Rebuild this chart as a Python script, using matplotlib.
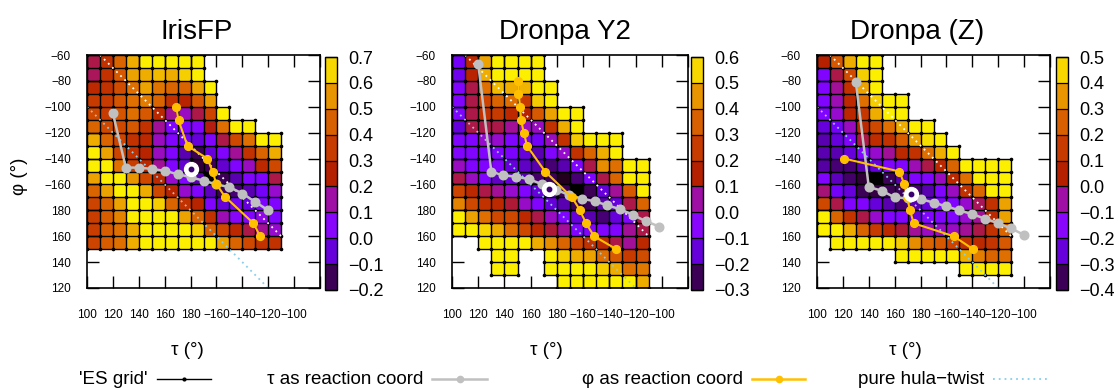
import numpy as np
import matplotlib
matplotlib.use('Agg')
import matplotlib.pyplot as plt
from matplotlib.colors import ListedColormap, BoundaryNorm, Normalize
from matplotlib.collections import LineCollection
from matplotlib.lines import Line2D
import matplotlib.cm as cm

plt.rcParams['font.family'] = ['Liberation Sans', 'DejaVu Sans']
nan = np.nan

# ---------------- data ----------------
titles = ['IrisFP', 'Dronpa Y2', 'Dronpa (Z)']
cb_ranges = [(-0.2, 0.7), (-0.3, 0.6), (-0.4, 0.5)]

# tau cell left edges (deg, 180 unwrapped) and phi top row edge
tau_start = 100
phi_top = 300
cell = 10

# energies, rows from phi = 300 (top) downward, columns from tau = 100
irisfp = [
    [0.21, 0.32, 0.46, 0.59, 0.68, 0.68, 0.68, 0.68, 0.68, nan, nan, nan, nan, nan, nan],
    [0.20, 0.32, 0.43, 0.57, 0.59, 0.61, 0.59, 0.64, 0.68, nan, nan, nan, nan, nan, nan],
    [0.29, 0.32, 0.40, 0.48, 0.57, 0.49, 0.46, 0.46, 0.57, 0.68, nan, nan, nan, nan, nan],
    [0.35, 0.35, 0.42, 0.48, 0.51, 0.46, 0.32, 0.27, 0.43, 0.56, nan, nan, nan, nan, nan],
    [0.39, 0.35, 0.42, 0.48, 0.43, 0.29, 0.16, 0.13, 0.21, 0.38, 0.68, nan, nan, nan, nan],
    [0.46, 0.39, 0.39, 0.43, 0.32, 0.16, 0.03, 0.03, 0.04, 0.24, 0.48, 0.68, 0.68, nan, nan],
    [0.59, 0.46, 0.38, 0.32, 0.29, 0.13, 0.03, -0.01, -0.05, 0.03, 0.21, 0.39, 0.48, 0.68, 0.68],
    [0.68, 0.57, 0.38, 0.32, 0.27, 0.13, 0.03, -0.09, -0.15, -0.05, 0.03, 0.16, 0.32, 0.46, 0.59],
    [0.68, 0.68, 0.48, 0.36, 0.29, 0.16, 0.03, -0.06, -0.165, -0.15, -0.06, 0.03, 0.13, 0.29, 0.39],
    [0.57, 0.68, 0.68, 0.55, 0.39, 0.29, 0.115, 0.03, -0.09, -0.25, -0.15, -0.09, 0.03, 0.03, 0.21],
    [0.46, 0.57, 0.68, 0.68, 0.59, 0.39, 0.27, 0.115, 0.03, -0.08, -0.15, -0.13, -0.09, -0.01, 0.115],
    [0.38, 0.46, 0.57, 0.68, 0.68, 0.64, 0.46, 0.32, 0.27, 0.03, -0.05, -0.01, -0.05, 0.02, 0.03],
    [0.36, 0.44, 0.52, 0.68, 0.68, 0.68, 0.68, 0.57, 0.46, 0.32, 0.14, 0.06, 0.03, 0.09, 0.03],
    [0.36, 0.44, 0.48, 0.59, 0.68, 0.68, 0.68, 0.68, 0.64, 0.46, 0.39, 0.29, 0.21, 0.16, 0.115],
    [0.38, 0.44, 0.48, 0.59, 0.68, 0.68, 0.68, 0.68, 0.68, 0.68, 0.57, 0.46, 0.39, 0.32, 0.32],
]

dronpa_y2 = [
    [-0.11, 0.19, 0.47, 0.58, 0.58, 0.58, 0.58, nan, nan, nan, nan, nan, nan, nan, nan],
    [-0.13, 0.17, 0.49, 0.58, 0.58, 0.58, 0.58, nan, nan, nan, nan, nan, nan, nan, nan],
    [-0.07, 0.11, 0.38, 0.51, 0.49, 0.50, 0.58, 0.58, nan, nan, nan, nan, nan, nan, nan],
    [-0.07, 0.11, 0.28, 0.36, 0.38, 0.25, 0.53, 0.58, nan, nan, nan, nan, nan, nan, nan],
    [-0.07, 0.11, 0.22, 0.25, 0.19, 0.17, 0.33, 0.47, 0.58, 0.58, nan, nan, nan, nan, nan],
    [-0.15, 0.11, 0.11, 0.11, 0.06, 0.03, 0.03, 0.22, 0.49, 0.58, nan, nan, nan, nan, nan],
    [-0.07, -0.07, 0.015, 0.015, -0.07, -0.07, -0.11, 0.03, 0.22, 0.53, 0.58, 0.58, 0.58, nan, nan],
    [-0.07, -0.07, -0.07, -0.07, -0.09, -0.15, -0.19, -0.07, 0.015, 0.22, 0.36, 0.49, 0.58, nan, nan],
    [0.03, -0.07, -0.07, -0.07, -0.15, -0.17, -0.19, -0.23, -0.19, -0.07, 0.11, 0.44, 0.38, 0.58, 0.58],
    [0.11, 0.03, -0.07, -0.17, -0.15, -0.19, -0.24, -0.25, -0.28, -0.23, -0.07, 0.11, 0.36, 0.58, 0.58],
    [0.28, 0.19, 0.11, 0.06, 0.015, -0.07, -0.15, -0.19, -0.25, -0.35, -0.25, -0.15, 0.06, 0.33, 0.58],
    [0.42, 0.29, 0.22, 0.19, 0.12, 0.02, -0.07, -0.15, -0.19, -0.25, -0.25, -0.19, -0.15, 0.11, 0.36],
    [0.58, 0.47, 0.38, 0.29, 0.29, 0.19, 0.11, 0.03, -0.07, -0.15, -0.19, -0.23, -0.15, -0.07, 0.11],
    [0.58, 0.58, 0.55, 0.49, 0.38, 0.29, 0.19, 0.12, 0.06, -0.07, -0.07, -0.07, -0.07, 0.06, 0.11],
    [nan, nan, 0.58, 0.58, 0.58, 0.58, 0.49, 0.44, 0.36, 0.29, 0.22, 0.19, 0.11, 0.06, 0.19],
    [nan, nan, nan, 0.58, 0.58, nan, nan, 0.58, 0.54, 0.49, 0.47, 0.38, 0.33, 0.25, 0.30],
    [nan, nan, nan, 0.58, 0.58, nan, nan, 0.58, 0.58, 0.58, 0.58, 0.54, 0.49, 0.38, 0.40],
    [nan, nan, nan, nan, nan, nan, nan, nan, 0.58, 0.58, 0.58, 0.58, 0.58, 0.58, 0.49],
]

dronpa_z = [
    [0.05, 0.23, 0.39, 0.48, 0.48, nan, nan, nan, nan, nan, nan, nan, nan, nan, nan],
    [-0.17, 0.01, 0.20, 0.44, 0.48, nan, nan, nan, nan, nan, nan, nan, nan, nan, nan],
    [-0.17, -0.04, 0.12, 0.37, 0.48, nan, nan, nan, nan, nan, nan, nan, nan, nan, nan],
    [-0.17, -0.06, 0.09, 0.28, 0.44, 0.48, 0.48, nan, nan, nan, nan, nan, nan, nan, nan],
    [-0.17, -0.085, 0.08, 0.14, 0.39, 0.48, 0.48, nan, nan, nan, nan, nan, nan, nan, nan],
    [-0.25, -0.21, -0.07, 0.09, 0.19, 0.28, 0.39, 0.48, 0.48, nan, nan, nan, nan, nan, nan],
    [-0.29, -0.25, -0.17, 0.01, 0.10, 0.12, 0.24, 0.37, 0.46, 0.48, nan, nan, nan, nan, nan],
    [-0.29, -0.29, -0.25, -0.17, -0.085, -0.04, 0.09, 0.12, 0.28, 0.39, 0.48, nan, nan, nan, nan],
    [-0.30, -0.33, -0.33, -0.29, -0.25, -0.17, -0.17, -0.06, 0.01, 0.09, 0.26, 0.48, 0.48, 0.48, 0.48],
    [-0.17, -0.28, -0.34, -0.365, -0.42, -0.35, -0.29, -0.17, -0.17, -0.07, 0.09, 0.28, 0.48, 0.48, 0.48],
    [-0.02, -0.21, -0.25, -0.35, -0.36, -0.35, -0.35, -0.33, -0.29, -0.17, -0.07, 0.12, 0.27, 0.48, 0.48],
    [0.19, 0.01, -0.17, -0.17, -0.25, -0.29, -0.33, -0.29, -0.25, -0.17, -0.17, -0.085, 0.0, 0.12, 0.37],
    [0.48, 0.26, 0.13, 0.01, -0.085, -0.17, -0.17, -0.25, -0.17, -0.17, -0.17, -0.085, -0.04, 0.09, 0.37],
    [0.48, 0.48, 0.39, 0.26, 0.15, 0.09, 0.02, -0.04, -0.075, -0.075, -0.075, -0.04, 0.01, 0.12, 0.26],
    [nan, 0.48, 0.48, 0.48, 0.48, 0.48, 0.44, 0.34, 0.26, 0.23, 0.18, 0.12, 0.09, 0.13, 0.23],
    [nan, nan, nan, nan, nan, nan, 0.48, 0.48, 0.48, 0.48, 0.48, 0.39, 0.31, 0.26, 0.28],
    [nan, nan, nan, nan, nan, nan, nan, nan, nan, nan, nan, 0.48, 0.48, 0.48, 0.48],
]

# tau as reaction coordinate (tau, phi), degrees unwrapped
tau_rc_tau = [
    [120, 130, 140, 150, 160, 170, 180, 190, 200, 210, 220, 230, 240],
    [120, 130, 139, 149, 159, 169, 179, 189, 199, 209, 218, 228, 238, 248, 258],
    [130, 140, 150, 160, 170, 180, 190, 200, 210, 220, 230, 240, 250, 260],
]
tau_rc_phi = [
    [255, 213, 213, 212, 210.5, 208, 205.5, 203, 200, 198, 193, 186.5, 180],
    [293, 210, 207, 206, 204, 200, 196, 192, 189, 187, 184, 181, 176.5, 171.5, 167.5],
    [279, 198, 195.2, 190, 189.3, 188.7, 186, 183, 180, 177, 173.5, 170, 166, 161],
]
# phi as reaction coordinate
phi_rc_tau = [
    [169, 170.7, 177.7, 193, 197, 200, 206.6, 228.6, 233.7],
    [150.7, 150.7, 152, 152.7, 154.7, 157.4, 171, 191.5, 197.4, 202.2, 208.4, 225.3],
    [121, 163.7, 167.5, 169.5, 171.7, 174.7, 205.6, 220.5],
]
phi_rc_phi = [
    [260, 249.5, 229.7, 220, 210, 200.3, 190.5, 170, 160],
    [280, 270, 260, 250, 240, 229.5, 210, 190, 180.5, 170, 160, 150],
    [220, 210, 200, 190.5, 180.5, 170, 160, 150],
]
# ground-state geometry marker
gs_tau = [180, 173.8, 173]
gs_phi = [211.7, 196.3, 192.7]

# pure hula-twist lines
hula_tau = [100, 240]
hula_phi = [260, 120]
hula2_tau = [110, 250]
hula2_phi = [300, 160]

xtick_vals = [100, 120, 140, 160, 180, 200, 220, 240, 260, 280]
xtick_labels = ['100', '120', '140', '160', '180', '\u2212160', '\u2212140', '\u2212120', '\u2212100', '']
ytick_vals = [120, 140, 160, 180, 200, 220, 240, 260, 280, 300]
ytick_labels = ['120', '140', '160', '180', '\u2212160', '\u2212140', '\u2212120', '\u2212100', '\u221280', '\u221260']

legend_labels = ["'ES grid'", '\u03c4 as reaction coord', '\u03c6 as reaction coord', 'pure hula\u2212twist']

# ---------------- styling / layout ----------------
W, H = 1119, 388
def rect(x0, y0, x1, y1):
    return [x0 / W, 1 - y1 / H, (x1 - x0) / W, (y1 - y0) / H]

axes_px = [(87, 55, 320, 288), (452, 55, 688, 288), (817, 55, 1050, 288)]
cbar_px = [(325, 57, 337, 290), (691, 57, 703, 290), (1056, 57, 1068, 290)]
title_x = [197, 565, 917]
xlabel_x = [187, 546, 905]

GRAY = '#c0c0c0'
GOLD = '#ffc000'
SKY = '#87ceeb'

base = matplotlib.colormaps['gnuplot']
heat_cmap = base.copy()
heat_cmap.set_under('black')
heat_cmap.set_bad((0, 0, 0, 0))
band_cmap = ListedColormap([base((i + 0.5) / 9) for i in range(9)])

fig = plt.figure(figsize=(W / 100, H / 100), dpi=100)

datasets = [irisfp, dronpa_y2, dronpa_z]

for k in range(3):
    Z = np.array(datasets[k], dtype=float)
    ny, nx = Z.shape
    x_edges = tau_start + cell * np.arange(nx + 1)
    y_edges = phi_top - cell * np.arange(ny + 1)
    vmin, vmax = cb_ranges[k]

    ax = fig.add_axes(rect(*axes_px[k]))
    ax.pcolormesh(x_edges, y_edges, np.ma.masked_invalid(Z), cmap=heat_cmap,
                  norm=Normalize(vmin, vmax), shading='flat', zorder=1)

    # ES grid: lines between neighbouring grid corners of computed cells
    pts = set()
    for i in range(ny):
        for j in range(nx):
            if np.isfinite(Z[i, j]):
                for a in (0, 1):
                    for b in (0, 1):
                        pts.add((j + b, i + a))
    segs = []
    for (j, i) in pts:
        if (j + 1, i) in pts:
            segs.append([(x_edges[j], y_edges[i]), (x_edges[j + 1], y_edges[i])])
        if (j, i + 1) in pts:
            segs.append([(x_edges[j], y_edges[i]), (x_edges[j], y_edges[i + 1])])
    ax.add_collection(LineCollection(segs, colors='black', linewidths=1.0, zorder=2))
    px = [x_edges[j] for (j, i) in pts]
    py = [y_edges[i] for (j, i) in pts]
    ax.plot(px, py, 'o', color='black', ms=1.6, zorder=2.1, ls='none')

    # hula-twist reference lines
    ax.plot(hula2_tau, hula2_phi, color='white', lw=1.3, ls=(0, (1, 2.2)), zorder=3)
    ax.plot(hula_tau, hula_phi, color=SKY, lw=1.3, ls=(0, (1, 2.2)), zorder=3)

    # reaction coordinates
    ax.plot(tau_rc_tau[k], tau_rc_phi[k], '-o', color=GRAY, lw=1.8, ms=6.2,
            mec=GRAY, zorder=4)
    ax.plot(phi_rc_tau[k], phi_rc_phi[k], '-o', color=GOLD, lw=1.5, ms=5.6,
            mec=GOLD, zorder=5)
    ax.plot([gs_tau[k]], [gs_phi[k]], 'o', ms=10, mfc='white', mec='white', zorder=6)
    ax.plot([gs_tau[k]], [gs_phi[k]], 'o', ms=3.2, mfc='#3a0070', mec='#3a0070', zorder=7)

    ax.set_xlim(100, 280)
    ax.set_ylim(120, 300)
    ax.set_xticks(xtick_vals)
    ax.set_xticklabels(xtick_labels)
    ax.set_yticks(ytick_vals)
    ax.set_yticklabels(ytick_labels)
    ax.tick_params(axis='both', direction='in', length=8.6, width=1.0,
                   top=True, right=True, labelsize=8.5, zorder=8)
    ax.tick_params(axis='x', pad=15)
    ax.tick_params(axis='y', pad=11.5)
    for sp in ax.spines.values():
        sp.set_linewidth(1.2)
        sp.set_zorder(9)

    # colorbar (banded)
    cax = fig.add_axes(rect(*cbar_px[k]))
    bounds = np.round(np.linspace(vmin, vmax, 10), 2)
    sm = cm.ScalarMappable(norm=BoundaryNorm(bounds, 9), cmap=band_cmap)
    cb = fig.colorbar(sm, cax=cax, ticks=bounds)
    cb.set_ticklabels([('%.1f' % (v + 0.0)).replace('-', '\u2212') if abs(v) > 1e-9 else '0.0'
                       for v in bounds])
    cax.tick_params(direction='in', length=8.6, width=0.9, labelsize=13, pad=8)
    cb.outline.set_linewidth(1.0)

    fig.text(title_x[k] / W, 1 - 39 / H, titles[k], ha='center', va='baseline', fontsize=20)
    fig.text(xlabel_x[k] / W, 1 - 355 / H, '\u03c4 (\u00b0)', ha='center', va='baseline', fontsize=13.5)

fig.text(19 / W, 1 - 176 / H, '\u03c6 (\u00b0)', ha='center', va='center', rotation=90, fontsize=13.5)

# legend along the bottom
leg_y = 1 - 379 / H
samples = [(157, 211), (432, 487), (752, 805), (993, 1048)]
styles = [
    dict(color='black', lw=1.0, ls='-', mk='o', ms=2.0),
    dict(color=GRAY, lw=1.8, ls='-', mk='o', ms=4.5),
    dict(color=GOLD, lw=1.8, ls='-', mk='o', ms=4.5),
    dict(color=SKY, lw=1.3, ls=(0, (1, 2.2)), mk=None, ms=0),
]
for lab, (x0, x1), st in zip(legend_labels, samples, styles):
    fig.add_artist(Line2D([x0 / W, x1 / W], [leg_y, leg_y], color=st['color'], lw=st['lw'],
                          ls=st['ls'], transform=fig.transFigure))
    if st['mk']:
        fig.add_artist(Line2D([(x0 + x1) / 2 / W], [leg_y], marker=st['mk'], ms=st['ms'],
                              color=st['color'], ls='none', transform=fig.transFigure))
    fig.text((x0 - 9) / W, 1 - 384 / H, lab, ha='right', va='baseline', fontsize=13.5)

fig.savefig('out.png', dpi=100)
